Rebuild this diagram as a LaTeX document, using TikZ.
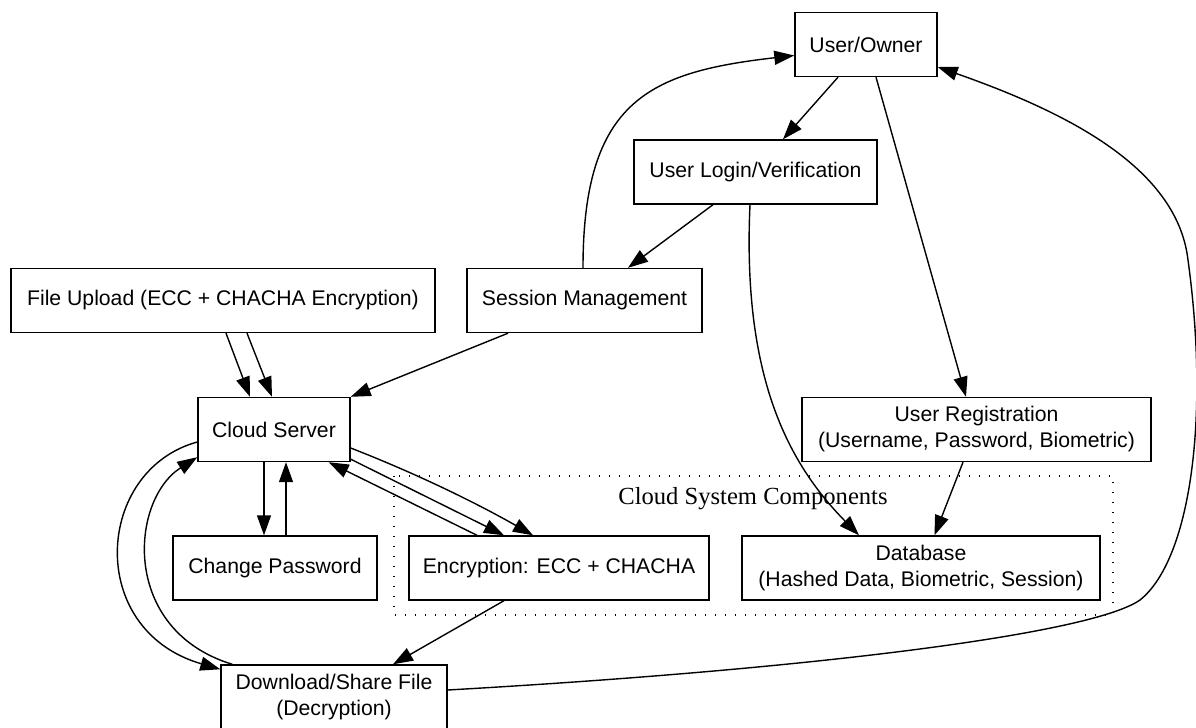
\documentclass[tikz,border=0pt]{standalone}
\usepackage{fontspec}
\setmainfont{Liberation Sans}
\newfontfamily\clusterfont{Liberation Serif}
\usetikzlibrary{arrows.meta}

\begin{document}
\begin{tikzpicture}[x=0.5pt,y=-0.5pt,>={Triangle[length=10pt,width=7pt]},line width=0.7pt,
    box/.style={draw,rectangle,align=center,minimum height=32pt,inner sep=0pt,font=\fontsize{10.6}{13}\selectfont}]
    \useasboundingbox (0,0) rectangle (1196,728);
    \draw[dash pattern=on 0.7pt off 4.3pt] (394,476) rectangle (1113,615);
    \node[font=\clusterfont\fontsize{12.3}{14}\selectfont] (cluslabel) at (753,499) {Cloud System Components};

    \node[box,minimum width=71pt] (owner) at (866,44.5) {User/Owner};
    \node[box,minimum width=121.5pt] (login) at (755.5,172) {User Login/Verification};
    \node[box,minimum width=212pt] (upload) at (223,300.5) {File Upload (ECC + CHACHA Encryption)};
    \node[box,minimum width=117.5pt] (session) at (584.5,300.5) {Session Management};
    \node[box,minimum width=76pt] (cloud) at (274,429.5) {Cloud Server};
    \node[box,minimum width=174.5pt] (reg) at (976.5,429.5) {User Registration\\(Username, Password, Biometric)};
    \node[box,minimum width=102pt] (passwd) at (275,568) {Change Password};
    \node[box,minimum width=150pt] (enc) at (559,568) {Encryption: ECC + CHACHA};
    \node[box,minimum width=179pt] (db) at (921,568) {Database\\(Hashed Data, Biometric, Session)};
    \node[box,minimum width=113pt] (dl) at (334,697) {Download/Share File\\(Decryption)};

    \draw[->] ([xshift=-14pt]owner.south) -- ([xshift=13.75pt]login.north);
    \draw[->] ([xshift=5pt]owner.south) -- ([xshift=-5.25pt]reg.north);
    \draw[->] ([xshift=-21.25pt]login.south) -- ([xshift=21.75pt]session.north);
    \draw[->] ([xshift=-2.75pt]login.south) .. controls (742,380) and (790,465) .. ([xshift=-31pt]db.north);
    \draw[->] ([xshift=-0.75pt]session.north) .. controls (583,100) and (650,72) .. ([yshift=-5.5pt]owner.west);
    \draw[->] ([xshift=-38.25pt]session.south) -- (cloud.north east);
    \draw[->] ([xshift=1.5pt]upload.south) -- ([xshift=-12pt]cloud.north);
    \draw[->] ([xshift=12pt]upload.south) -- ([xshift=-1pt]cloud.north);
    \draw[->] ([xshift=-5pt]cloud.south) -- ([xshift=-5.5pt]passwd.north);
    \draw[->] ([xshift=5.5pt]passwd.north) -- ([xshift=6pt]cloud.south);
    \draw[->] ([xshift=-41pt]enc.north) -- ([xshift=-11pt]cloud.south east);
    \draw[->] ([yshift=1.5pt]cloud.south east) -- ([xshift=-27.5pt]enc.north);
    \draw[->] ([yshift=-9.25pt]cloud.east) .. controls (420,475) and (480,505) .. ([xshift=-13pt]enc.north);
    \draw[->] ([xshift=-27.5pt]enc.south) -- ([xshift=29.5pt]dl.north);
    \draw[->] ([xshift=-6.75pt]reg.south) -- ([xshift=6.75pt]db.north);
    \draw[->] ([yshift=-6.25pt]cloud.west) .. controls (95,470) and (85,630) .. ([yshift=-2.5pt]dl.north west);
    \draw[->] ([xshift=6pt]dl.north west) .. controls (120,630) and (130,500) .. ([yshift=2.5pt]cloud.south west);
    \draw[->] ([yshift=3.5pt]dl.east) .. controls (800,670) and (1090,635) .. (1140,600)
        .. controls (1190,560) and (1210,420) .. (1188,260)
        .. controls (1177,165) and (1060,110) .. ([yshift=-11.25pt]owner.east);
\end{tikzpicture}
\end{document}
